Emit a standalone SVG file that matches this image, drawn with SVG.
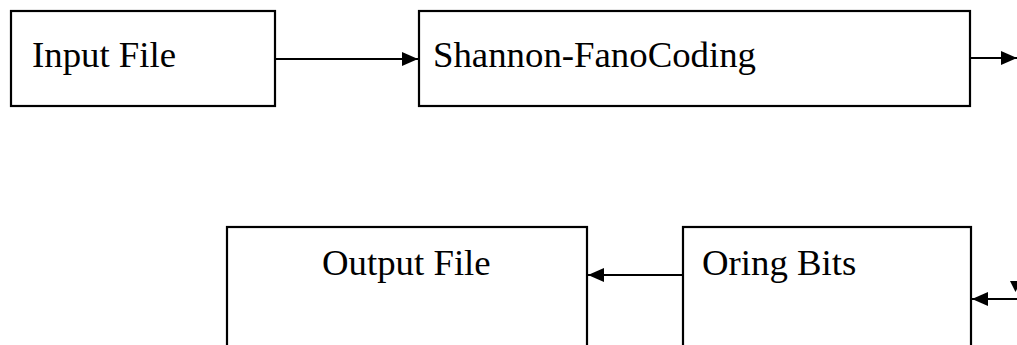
<svg xmlns="http://www.w3.org/2000/svg" width="1017" height="345" viewBox="0 0 1017 345">
<style>
.box{fill:#fff;stroke:#000;stroke-width:2.2}
.lbl{font-family:"Liberation Serif","Times New Roman",serif;font-size:36.8px;fill:#000}
.con{stroke:#000;stroke-width:2.2;fill:none}
</style>
<defs>
<marker id="ah" markerWidth="16" markerHeight="14" refX="16" refY="7" orient="auto" markerUnits="userSpaceOnUse">
<path d="M0,0 L16,7 L0,14 Z" fill="#000"/>
</marker>
</defs>
<rect width="1017" height="345" fill="#fff"/>
<g id="input-file">
<rect class="box" x="11" y="11" width="264" height="95"/>
<text class="lbl" x="32" y="67">Input File</text>
</g>
<g id="shannon-fano">
<rect class="box" x="419" y="11" width="551" height="95"/>
<text class="lbl" x="433" y="67">Shannon-FanoCoding</text>
</g>
<g id="output-file">
<rect class="box" x="227" y="227" width="360" height="130"/>
<text class="lbl" x="322" y="275">Output File</text>
</g>
<g id="oring-bits">
<rect class="box" x="683" y="227" width="288" height="130"/>
<text class="lbl" x="702" y="275">Oring Bits</text>
</g>
<g id="connectors">
<line class="con" x1="275" y1="59" x2="418" y2="59" marker-end="url(#ah)"/>
<line class="con" x1="970" y1="58" x2="1017" y2="58" marker-end="url(#ah)"/>
<line class="con" x1="683" y1="275" x2="588" y2="275" marker-end="url(#ah)"/>
<line class="con" x1="1017" y1="299" x2="972" y2="299" marker-end="url(#ah)"/>
<polygon points="1010,281 1021,281 1015.5,292" fill="#000"/>
</g>
</svg>
